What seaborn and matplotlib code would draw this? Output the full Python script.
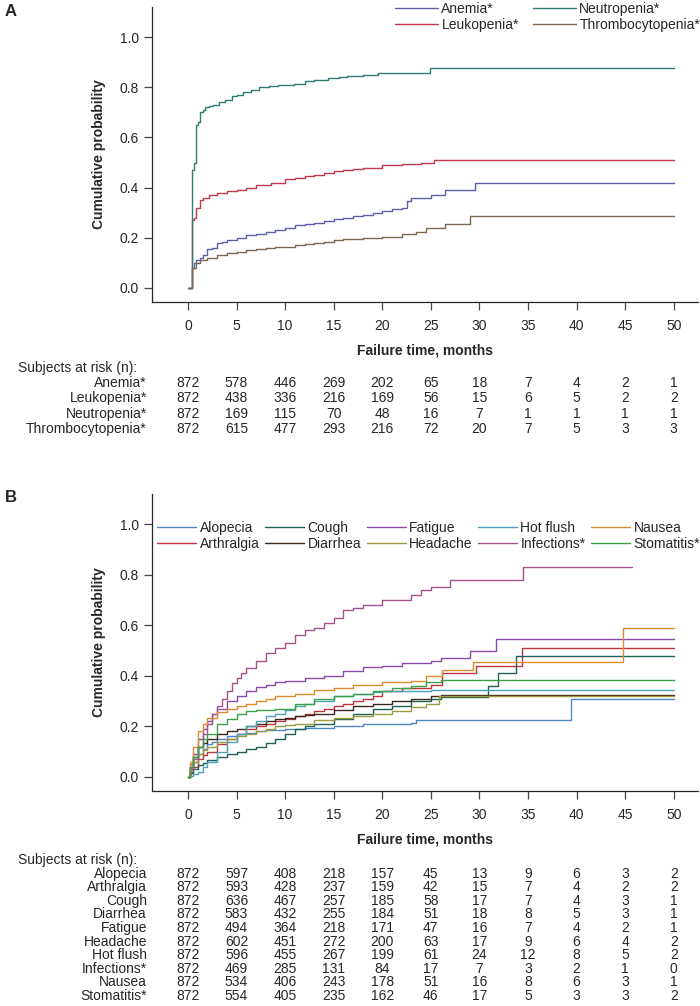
import numpy as np
import pandas as pd
import matplotlib
matplotlib.use("Agg")
import matplotlib.pyplot as plt
import matplotlib.transforms as mtrans
import seaborn as sns

# -----------------------------
# Data
# -----------------------------
xticks = [0, 5, 10, 15, 20, 25, 30, 35, 40, 45, 50]

# Panel A: hematologic events
a_names = ["Anemia*", "Leukopenia*", "Neutropenia*", "Thrombocytopenia*"]
a_colors = ["#5d5fa8", "#c13a4b", "#2f7c72", "#7d6650"]

anemia_t = [0, 0.4, 0.6, 0.8, 1.2, 1.5, 2, 2.5, 3, 3.5, 4, 5, 6, 7, 8, 9, 10, 11, 12, 13, 14, 15, 16, 17, 18, 19, 20, 21, 22, 22.5, 23, 25, 26.5, 29.5, 50]
anemia_p = [0, 0.08, 0.10, 0.11, 0.12, 0.13, 0.155, 0.16, 0.18, 0.185, 0.19, 0.20, 0.21, 0.215, 0.225, 0.23, 0.24, 0.25, 0.255, 0.26, 0.265, 0.275, 0.28, 0.285, 0.29, 0.30, 0.305, 0.315, 0.32, 0.345, 0.36, 0.37, 0.39, 0.42, 0.42]
leuko_t = [0, 0.4, 0.6, 0.8, 1.2, 1.6, 2.2, 3, 4, 5, 6, 7, 8.5, 10, 11, 12, 13, 14, 15, 16, 17, 18, 20, 22, 24, 25.3, 50]
leuko_p = [0, 0.27, 0.28, 0.32, 0.35, 0.36, 0.37, 0.38, 0.385, 0.39, 0.40, 0.41, 0.42, 0.435, 0.44, 0.445, 0.45, 0.46, 0.465, 0.47, 0.475, 0.48, 0.49, 0.495, 0.50, 0.51, 0.51]
neutro_t = [0, 0.4, 0.6, 0.8, 1.0, 1.2, 1.5, 1.8, 2.2, 2.6, 3.2, 3.8, 4.5, 5.0, 5.7, 6.5, 7.3, 8.3, 9.3, 10.9, 12, 13, 14.4, 15.5, 16.4, 18, 19.6, 24.9, 50]
neutro_p = [0, 0.47, 0.50, 0.65, 0.66, 0.70, 0.71, 0.72, 0.725, 0.73, 0.74, 0.75, 0.765, 0.77, 0.78, 0.79, 0.80, 0.805, 0.81, 0.815, 0.825, 0.83, 0.835, 0.84, 0.845, 0.85, 0.855, 0.875, 0.875]
thrombo_t = [0, 0.4, 0.8, 1.2, 2, 3, 4, 5, 6, 7, 8, 9, 10, 11, 12, 13, 14, 15, 16, 18, 20, 22, 23.5, 24.5, 26.5, 29, 50]
thrombo_p = [0, 0.08, 0.10, 0.11, 0.12, 0.13, 0.14, 0.145, 0.15, 0.155, 0.16, 0.163, 0.165, 0.17, 0.175, 0.18, 0.185, 0.19, 0.195, 0.20, 0.205, 0.215, 0.225, 0.24, 0.255, 0.285, 0.285]

a_times = [anemia_t, leuko_t, neutro_t, thrombo_t]
a_probs = [anemia_p, leuko_p, neutro_p, thrombo_p]

a_risk = [
    [872, 578, 446, 269, 202, 65, 18, 7, 4, 2, 1],
    [872, 438, 336, 216, 169, 56, 15, 6, 5, 2, 2],
    [872, 169, 115, 70, 48, 16, 7, 1, 1, 1, 1],
    [872, 615, 477, 293, 216, 72, 20, 7, 5, 3, 3],
]

# Panel B: non-hematologic events
b_names = ["Alopecia", "Arthralgia", "Cough", "Diarrhea", "Fatigue",
           "Headache", "Hot flush", "Infections*", "Nausea", "Stomatitis*"]
b_colors = ["#4f86c6", "#bf3440", "#1f5f56", "#3a2a1e", "#8a4aa8",
            "#9e9a3e", "#4aa3b8", "#a5528e", "#e08a2e", "#3aa04a"]

alop_t = [0, 0.25, 0.5, 1, 1.5, 2, 2.5, 3, 4, 5, 6, 7, 8, 10, 12, 15, 18, 23, 23.5, 39.4, 50]
alop_p = [0, 0.03, 0.06, 0.09, 0.11, 0.13, 0.14, 0.15, 0.16, 0.17, 0.175, 0.18, 0.185, 0.19, 0.195, 0.20, 0.21, 0.215, 0.225, 0.31, 0.31]
arth_t = [0, 0.25, 0.5, 1, 1.5, 2, 3, 4, 5, 6, 7, 8, 9, 10, 11, 12, 13, 14, 15, 16, 17, 18, 19, 20, 22, 25, 26.2, 29.7, 34.4, 50]
arth_p = [0, 0.02, 0.04, 0.07, 0.085, 0.10, 0.13, 0.15, 0.17, 0.19, 0.20, 0.21, 0.22, 0.23, 0.24, 0.25, 0.26, 0.27, 0.28, 0.29, 0.30, 0.31, 0.32, 0.34, 0.35, 0.365, 0.41, 0.44, 0.51, 0.51]
cough_t = [0, 0.25, 0.5, 1, 1.5, 2, 3, 4, 5, 6, 7, 8, 9, 10, 11, 12, 13, 15, 17, 19, 21, 23, 25, 26, 30.9, 31.9, 33.8, 50]
cough_p = [0, 0.015, 0.03, 0.045, 0.055, 0.065, 0.08, 0.09, 0.10, 0.11, 0.12, 0.135, 0.15, 0.17, 0.19, 0.20, 0.21, 0.23, 0.25, 0.27, 0.28, 0.30, 0.31, 0.315, 0.36, 0.41, 0.48, 0.48]
diar_t = [0, 0.25, 0.5, 1, 1.5, 2, 3, 4, 5, 6, 7, 8, 9, 10, 11, 12, 13, 15, 17, 19, 21, 23, 25, 26, 50]
diar_p = [0, 0.04, 0.08, 0.12, 0.135, 0.15, 0.17, 0.18, 0.19, 0.20, 0.21, 0.22, 0.23, 0.235, 0.24, 0.245, 0.25, 0.265, 0.28, 0.29, 0.30, 0.31, 0.32, 0.325, 0.325]
fatig_t = [0, 0.25, 0.5, 1, 1.5, 2, 2.5, 3, 4, 5, 6, 7, 8, 9, 10, 12, 14, 16, 18, 20, 22, 25, 26, 29, 31.7, 50]
fatig_p = [0, 0.05, 0.09, 0.15, 0.19, 0.22, 0.25, 0.27, 0.30, 0.32, 0.34, 0.355, 0.365, 0.375, 0.38, 0.39, 0.40, 0.42, 0.435, 0.44, 0.45, 0.46, 0.47, 0.50, 0.545, 0.545]
head_t = [0, 0.25, 0.5, 1, 1.5, 2, 3, 4, 5, 6, 7, 8, 9, 10, 11, 13, 15, 17, 19, 21, 23, 24.5, 25.8, 50]
head_p = [0, 0.03, 0.06, 0.09, 0.105, 0.12, 0.14, 0.15, 0.16, 0.17, 0.18, 0.19, 0.20, 0.205, 0.21, 0.225, 0.235, 0.24, 0.25, 0.26, 0.275, 0.29, 0.32, 0.32]
hot_t = [0, 0.25, 0.5, 1, 1.5, 2, 3, 4, 5, 6, 7, 8, 9, 10, 11, 12, 13, 15, 17, 19, 20, 25, 50]
hot_p = [0, 0.005, 0.01, 0.02, 0.04, 0.06, 0.10, 0.14, 0.17, 0.20, 0.22, 0.24, 0.25, 0.265, 0.28, 0.29, 0.30, 0.32, 0.33, 0.335, 0.34, 0.345, 0.345]
inf_t = [0, 0.25, 0.5, 1, 1.5, 2, 2.5, 3, 3.5, 4, 4.5, 5, 5.5, 6, 7, 8, 9, 10, 11, 12, 13, 14, 15, 16, 17, 18, 20, 22, 23, 24, 25, 27, 34.5, 45.7]
inf_p = [0, 0.03, 0.07, 0.12, 0.17, 0.21, 0.25, 0.28, 0.31, 0.34, 0.37, 0.39, 0.41, 0.43, 0.46, 0.49, 0.51, 0.53, 0.56, 0.58, 0.59, 0.61, 0.63, 0.66, 0.67, 0.68, 0.70, 0.70, 0.72, 0.74, 0.75, 0.78, 0.83, 0.83]
naus_t = [0, 0.25, 0.5, 1, 1.5, 2, 3, 4, 5, 6, 7, 8, 9, 11, 13, 15, 17, 20, 23, 24.5, 26.2, 29.3, 44.8, 50]
naus_p = [0, 0.06, 0.12, 0.18, 0.21, 0.235, 0.255, 0.27, 0.28, 0.29, 0.30, 0.31, 0.32, 0.33, 0.345, 0.35, 0.365, 0.375, 0.38, 0.40, 0.425, 0.455, 0.59, 0.59]
stom_t = [0, 0.25, 0.5, 1, 1.5, 2, 3, 4, 5, 6, 7, 9, 11, 13, 15, 17, 19, 21, 23, 24.5, 26, 50]
stom_p = [0, 0.04, 0.08, 0.12, 0.15, 0.17, 0.21, 0.23, 0.25, 0.26, 0.265, 0.27, 0.29, 0.31, 0.32, 0.33, 0.34, 0.35, 0.36, 0.375, 0.385, 0.385]

b_times = [alop_t, arth_t, cough_t, diar_t, fatig_t, head_t, hot_t, inf_t, naus_t, stom_t]
b_probs = [alop_p, arth_p, cough_p, diar_p, fatig_p, head_p, hot_p, inf_p, naus_p, stom_p]

b_risk = [
    [872, 597, 408, 218, 157, 45, 13, 9, 6, 3, 2],
    [872, 593, 428, 237, 159, 42, 15, 7, 4, 2, 2],
    [872, 636, 467, 257, 185, 58, 17, 7, 4, 3, 1],
    [872, 583, 432, 255, 184, 51, 18, 8, 5, 3, 1],
    [872, 494, 364, 218, 171, 47, 16, 7, 4, 2, 1],
    [872, 602, 451, 272, 200, 63, 17, 9, 6, 4, 2],
    [872, 596, 455, 267, 199, 61, 24, 12, 8, 5, 2],
    [872, 469, 285, 131, 84, 17, 7, 3, 2, 1, 0],
    [872, 534, 406, 243, 178, 51, 16, 8, 6, 3, 1],
    [872, 554, 405, 235, 162, 46, 17, 5, 3, 3, 2],
]

# -----------------------------
# Styling
# -----------------------------
sns.set_style("ticks")
plt.rcParams['font.family'] = ['Liberation Sans Narrow', 'Liberation Sans', 'DejaVu Sans']
plt.rcParams['font.size'] = 9.5

W, H = 700, 1006
fig = plt.figure(figsize=(W / 100, H / 100), dpi=100)


def fy(px):
    return 1 - px / H


def make_df(names, times, probs):
    rows = []
    for n, t, p in zip(names, times, probs):
        for ti, pi in zip(t, p):
            rows.append((n, ti, pi))
    return pd.DataFrame(rows, columns=["event", "time", "prob"])


def draw_panel(top_px, bot_px, names, colors, times, probs, risk,
               letter, leg_anchor, ncol, hlen, cspace, risk_top, risk_step):
    ax = fig.add_axes([152 / W, fy(bot_px), (698 - 152) / W, (bot_px - top_px) / H])
    df = make_df(names, times, probs)
    sns.lineplot(data=df, x="time", y="prob", hue="event", hue_order=names,
                 palette=dict(zip(names, colors)), estimator=None, sort=False,
                 drawstyle="steps-post", linewidth=1.0, ax=ax)
    ax.set_xlim(-3.7, 52.5)
    ax.set_ylim(-0.056, 1.12)
    ax.set_xticks(xticks)
    ax.set_yticks([0, 0.2, 0.4, 0.6, 0.8, 1.0])
    ax.set_yticklabels([f"{v:.1f}" for v in [0, 0.2, 0.4, 0.6, 0.8, 1.0]])
    ax.tick_params(axis="both", direction="out", length=6, width=0.9,
                   labelsize=10, color="#444444")
    ax.tick_params(axis="x", pad=6)
    for s in ["top", "right"]:
        ax.spines[s].set_visible(False)
    for s in ["left", "bottom"]:
        ax.spines[s].set_linewidth(0.9)
    ax.set_xlabel("Failure time, months", fontweight="bold", fontsize=10, labelpad=8)
    ax.set_ylabel("Cumulative probability", fontweight="bold", fontsize=10, labelpad=10)
    sns.move_legend(ax, "upper right", bbox_to_anchor=leg_anchor,
                    bbox_transform=fig.transFigure, ncol=ncol, frameon=False,
                    title=None, fontsize=10, handlelength=hlen, handletextpad=0.25,
                    columnspacing=cspace, labelspacing=0.15, borderaxespad=0,
                    borderpad=0)
    fig.text(5 / W, fy(top_px + 4), letter, fontweight="bold", fontsize=12,
             va="center", ha="left")

    # risk table
    tr = mtrans.blended_transform_factory(ax.transData, fig.transFigure)
    fig.text(18 / W, fy(risk_top), "Subjects at risk (n):", fontsize=10,
             va="center", ha="left")
    for i, (n, vals) in enumerate(zip(names, risk)):
        y = fy(risk_top + risk_step * (i + 1))
        fig.text(147 / W, y, n, fontsize=10, va="center", ha="right")
        for xv, v in zip(xticks, vals):
            ax.text(xv, y, str(v), transform=tr, fontsize=10,
                    va="center", ha="center", clip_on=False)
    return ax


draw_panel(7, 302, a_names, a_colors, a_times, a_probs, a_risk, "A",
           (1.0, fy(2)), 2, 3.1, 1.0, 368, 15.2)
draw_panel(494, 791, b_names, b_colors, b_times, b_probs, b_risk, "B",
           (1.0, fy(521)), 5, 2.8, 0.4, 860, 13.6)

fig.savefig("out.png", dpi=100)
